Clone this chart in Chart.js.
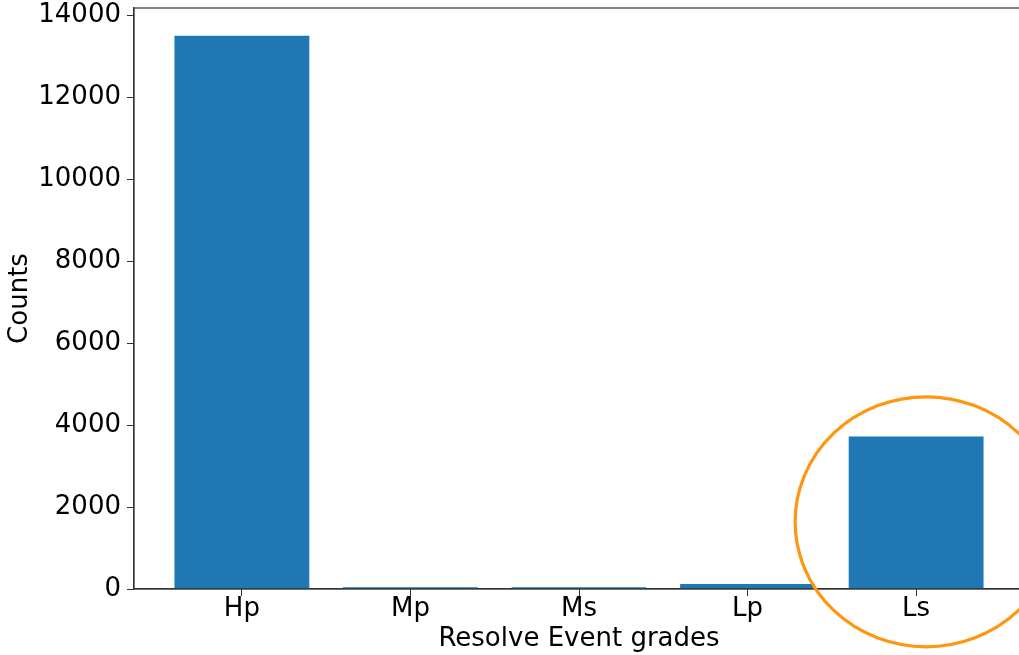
<!DOCTYPE html>
<html>
<head>
<meta charset="utf-8">
<script src="https://cdn.jsdelivr.net/npm/chart.js@4.4.0/dist/chart.umd.min.js"></script>
<style>
  html, body { margin: 0; padding: 0; background: #fff; overflow: hidden; }
  #wrap { width: 1019px; height: 655px; overflow: hidden; }
</style>
</head>
<body>
<div id="wrap"><canvas id="barChart" width="1027" height="655"></canvas></div>
<script>
const grades = ['Hp', 'Mp', 'Ms', 'Lp', 'Ls'];
const counts = [13500, 40, 40, 120, 3720];
const yTicks = [0, 2000, 4000, 6000, 8000, 10000, 12000, 14000];

const FONT = 'DejaVu Sans';
const SPINE = '#333333';

// draw the top/right spines and the orange highlight ring
const extras = {
    id: 'extras',
    afterDraw(chart) {
        const { ctx, chartArea: a, scales } = chart;
        ctx.save();
        ctx.strokeStyle = SPINE;
        ctx.lineWidth = 1.2;
        ctx.strokeRect(a.left, a.top, a.right - a.left, a.bottom - a.top);

        // highlight ring around the last bar
        const cx = scales.x.getPixelForValue(grades.length - 1) + 10;
        const cy = scales.y.getPixelForValue(1640);
        ctx.strokeStyle = '#ff960f';
        ctx.lineWidth = 3.2;
        ctx.beginPath();
        ctx.ellipse(cx, cy, 131, 125, 0, 0, Math.PI * 2);
        ctx.stroke();
        ctx.restore();
    }
};

const ctxBar = document.getElementById('barChart').getContext('2d');
const barChart = new Chart(ctxBar, {
    type: 'bar',
    data: {
        datasets: [{
            data: counts.map((v, i) => ({ x: i, y: v })),
            backgroundColor: '#1f77b4',
            barPercentage: 0.8,
            categoryPercentage: 1.0
        }]
    },
    options: {
        responsive: false,
        animation: false,
        layout: { padding: { left: 0, top: 8, right: 3, bottom: 0 } },
        plugins: {
            legend: { display: false },
            tooltip: { enabled: false }
        },
        scales: {
            x: {
                type: 'linear',
                min: -0.64,
                max: 4.64,
                offset: false,
                afterBuildTicks: s => { s.ticks = grades.map((g, i) => ({ value: i })); },
                afterFit: s => { s.height = 66; s.paddingLeft = 0; s.paddingRight = 0; },
                ticks: {
                    color: '#000',
                    font: { family: FONT, size: 26 },
                    padding: -2,
                    maxRotation: 0,
                    autoSkip: false,
                    callback: v => grades[v]
                },
                grid: { offset: false, drawOnChartArea: false, drawTicks: true, tickLength: 7, color: SPINE },
                border: { display: true, color: SPINE, width: 1.2 },
                title: {
                    display: true,
                    text: 'Resolve Event grades',
                    color: '#000',
                    font: { family: FONT, size: 26 },
                    padding: { top: 0, bottom: 0 }
                }
            },
            y: {
                min: 0,
                max: 14175,
                afterBuildTicks: s => { s.ticks = yTicks.map(v => ({ value: v })); },
                afterFit: s => { s.width = 134; s.paddingTop = 0; s.paddingBottom = 0; },
                ticks: {
                    color: '#000',
                    font: { family: FONT, size: 26 },
                    padding: 6,
                    callback: v => String(v)
                },
                grid: { drawOnChartArea: false, drawTicks: true, tickLength: 7, color: SPINE },
                border: { display: true, color: SPINE, width: 1.2 },
                title: {
                    display: true,
                    text: 'Counts',
                    color: '#000',
                    font: { family: FONT, size: 26 },
                    padding: { top: 5, bottom: 0 }
                }
            }
        }
    },
    plugins: [extras]
});
</script>
</body>
</html>
